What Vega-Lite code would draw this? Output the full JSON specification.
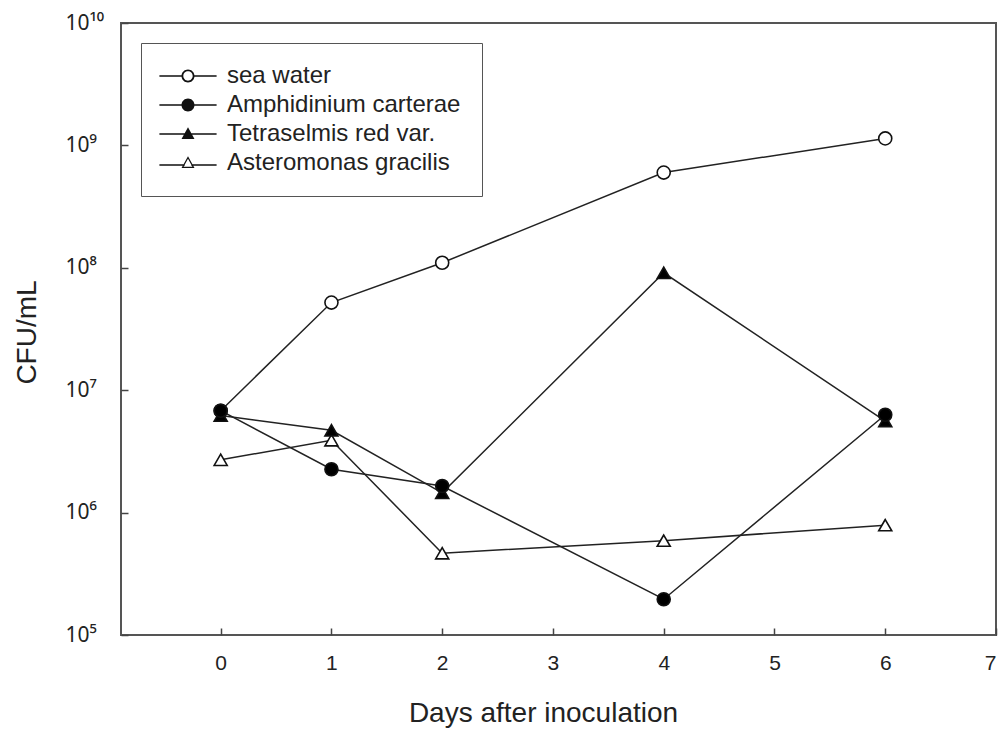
{
  "$schema": "https://vega.github.io/schema/vega-lite/v6.json",
  "width": 875,
  "height": 612,
  "autosize": "none",
  "padding": {"left": 121, "top": 23, "right": 5, "bottom": 96},
  "background": "white",
  "config": {
    "view": {"stroke": "#555", "strokeWidth": 2},
    "font": "Liberation Sans",
    "axis": {
      "grid": false,
      "domain": false,
      "tickColor": "#444",
      "tickWidth": 1.5,
      "tickSize": -7,
      "labelFont": "Liberation Sans",
      "labelColor": "#222",
      "labelFontSize": 21,
      "titleFont": "Liberation Sans",
      "titleColor": "#222",
      "titleFontSize": 28,
      "titleFontWeight": "normal"
    }
  },
  "data": {
    "values": [
      {"series": "sea water", "day": 0, "cfu": 6800000},
      {"series": "sea water", "day": 1, "cfu": 52000000},
      {"series": "sea water", "day": 2, "cfu": 110000000},
      {"series": "sea water", "day": 4, "cfu": 600000000},
      {"series": "sea water", "day": 6, "cfu": 1140000000},
      {"series": "Amphidinium carterae", "day": 0, "cfu": 6800000},
      {"series": "Amphidinium carterae", "day": 1, "cfu": 2260000},
      {"series": "Amphidinium carterae", "day": 2, "cfu": 1650000},
      {"series": "Amphidinium carterae", "day": 4, "cfu": 196000},
      {"series": "Amphidinium carterae", "day": 6, "cfu": 6300000},
      {"series": "Tetraselmis red var.", "day": 0, "cfu": 6200000},
      {"series": "Tetraselmis red var.", "day": 1, "cfu": 4700000},
      {"series": "Tetraselmis red var.", "day": 2, "cfu": 1450000},
      {"series": "Tetraselmis red var.", "day": 4, "cfu": 91000000},
      {"series": "Tetraselmis red var.", "day": 6, "cfu": 5600000},
      {"series": "Asteromonas gracilis", "day": 0, "cfu": 2700000},
      {"series": "Asteromonas gracilis", "day": 1, "cfu": 3900000},
      {"series": "Asteromonas gracilis", "day": 2, "cfu": 466000},
      {"series": "Asteromonas gracilis", "day": 4, "cfu": 590000},
      {"series": "Asteromonas gracilis", "day": 6, "cfu": 790000}
    ]
  },
  "encoding": {
    "x": {
      "field": "day",
      "type": "quantitative",
      "scale": {"domain": [-0.9, 7], "nice": false, "zero": false},
      "axis": {
        "values": [0, 1, 2, 3, 4, 5, 6, 7],
        "labelPadding": 24,
        "title": "Days after inoculation",
        "titleX": 422,
        "titleY": 86,
        "titleBaseline": "alphabetic",
        "titleAlign": "center"
      }
    },
    "y": {
      "field": "cfu",
      "type": "quantitative",
      "scale": {"type": "log", "domain": [100000, 10000000000], "nice": false},
      "axis": {
        "values": [100000, 1000000, 10000000, 100000000, 1000000000, 10000000000],
        "labelExpr": "['10⁵','10⁶','10⁷','10⁸','10⁹','10¹⁰'][round(log(datum.value)/LN10)-5]",
        "labelFont": "Noto Sans",
        "labelFontSize": 21,
        "labelAlign": "left",
        "labelBaseline": "middle",
        "labelPadding": 63,
        "title": "CFU/mL",
        "titleAngle": 270,
        "titleX": -86,
        "titleY": 309,
        "titleBaseline": "alphabetic",
        "titleAlign": "center"
      }
    }
  },
  "layer": [
    {
      "mark": {"type": "line", "color": "#222", "strokeWidth": 1.5},
      "encoding": {"detail": {"field": "series"}}
    },
    {
      "transform": [{"filter": "datum.series === 'sea water'"}],
      "mark": {"type": "point", "shape": "circle", "filled": true, "fill": "white", "stroke": "#111", "strokeWidth": 1.6, "size": 170, "opacity": 1}
    },
    {
      "transform": [{"filter": "datum.series === 'Asteromonas gracilis'"}],
      "mark": {"type": "point", "shape": "triangle-up", "filled": true, "fill": "white", "stroke": "#111", "strokeWidth": 1.6, "size": 170, "opacity": 1}
    },
    {
      "transform": [{"filter": "datum.series === 'Tetraselmis red var.'"}],
      "mark": {"type": "point", "shape": "triangle-up", "filled": true, "fill": "black", "stroke": "#111", "strokeWidth": 1.6, "size": 170, "opacity": 1}
    },
    {
      "transform": [{"filter": "datum.series === 'Amphidinium carterae'"}],
      "mark": {"type": "point", "shape": "circle", "filled": true, "fill": "black", "stroke": "#111", "strokeWidth": 1.6, "size": 170, "opacity": 1}
    },
    {
      "mark": {"type": "point", "filled": true, "color": "#111", "opacity": 0, "size": 169},
      "encoding": {
        "shape": {
          "field": "series",
          "type": "nominal",
          "scale": {
            "domain": ["sea water", "Amphidinium carterae", "Tetraselmis red var.", "Asteromonas gracilis"],
            "range": [
              "M-4.4,-0.12L-0.95,-0.12L-0.95,0.12L-4.4,0.12ZM0.95,-0.12L4.4,-0.12L4.4,0.12L0.95,0.12ZM-1,0A1,1,0,1,1,1,0A1,1,0,1,1,-1,0ZM-0.72,0A0.72,0.72,0,1,0,0.72,0A0.72,0.72,0,1,0,-0.72,0Z",
              "M-4.4,-0.12L4.4,-0.12L4.4,0.12L-4.4,0.12ZM-1,0A1,1,0,1,1,1,0A1,1,0,1,1,-1,0Z",
              "M-4.4,-0.12L4.4,-0.12L4.4,0.12L-4.4,0.12ZM0,-1.05L1,0.75L-1,0.75Z",
              "M-4.4,0.18L-0.5,0.18L-0.5,0.42L-4.4,0.42ZM0.5,0.18L4.4,0.18L4.4,0.42L0.5,0.42ZM0,-1.05L1,0.75L-1,0.75ZM0,-0.67L-0.68,0.56L0.68,0.56Z"
            ]
          },
          "legend": {
            "title": null,
            "orient": "none",
            "legendX": 20,
            "legendY": 20,
            "padding": 21,
            "strokeColor": "#555",
            "fillColor": "white",
            "symbolOpacity": 1,
            "symbolSize": 169,
            "symbolFillColor": "#111",
            "symbolStrokeColor": "#111",
            "symbolStrokeWidth": 0,
            "symbolOffset": 14,
            "labelOffset": 27,
            "labelFont": "Liberation Sans",
            "labelFontSize": 24,
            "labelColor": "#222",
            "labelLimit": 400,
            "labelExpr": "datum.label + '\u00a0\u00a0'",
            "rowPadding": 5
          }
        }
      }
    }
  ]
}
